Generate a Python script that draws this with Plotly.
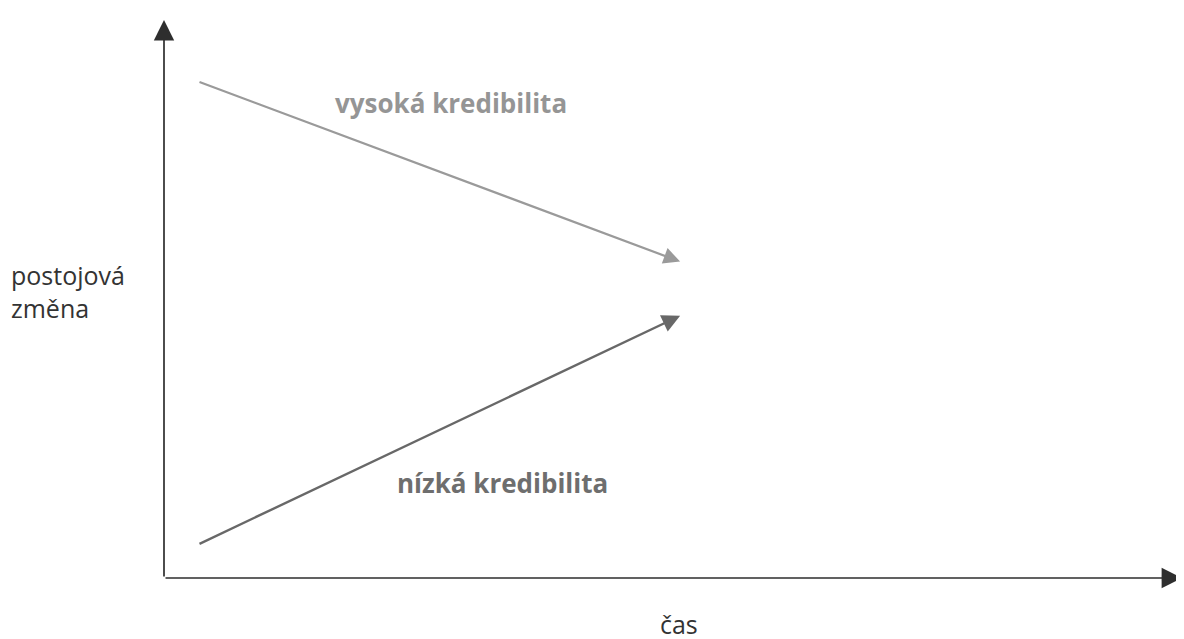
import plotly.graph_objects as go

# conceptual diagram: attitude change over time for high / low credibility source
cas = [0.334, 5.07]
vysoka = [8.9, 5.67]
nizka = [0.6, 4.7]

fig = go.Figure()

# invisible trace so the axes exist
fig.add_trace(go.Scatter(x=cas, y=vysoka, mode="lines", line=dict(width=0), hoverinfo="skip", showlegend=False))

# axes drawn as arrows
fig.add_annotation(x=0, y=10, ax=0, ay=0, xref="x", yref="y", axref="x", ayref="y",
                   showarrow=True, arrowhead=2, arrowsize=2.4, arrowwidth=1.7,
                   arrowcolor="#2e2e2e", text="", standoff=0)
fig.add_annotation(x=10, y=0, ax=0, ay=0, xref="x", yref="y", axref="x", ayref="y",
                   showarrow=True, arrowhead=2, arrowsize=2.4, arrowwidth=1.7,
                   arrowcolor="#2e2e2e", text="", standoff=0)

# the two series
fig.add_annotation(x=cas[1], y=vysoka[1], ax=cas[0], ay=vysoka[0], xref="x", yref="y",
                   axref="x", ayref="y", showarrow=True, arrowhead=2, arrowsize=1.5,
                   arrowwidth=2.2, arrowcolor="#9a9a9a", text="", standoff=0)
fig.add_annotation(x=cas[1], y=nizka[1], ax=cas[0], ay=nizka[0], xref="x", yref="y",
                   axref="x", ayref="y", showarrow=True, arrowhead=2, arrowsize=1.5,
                   arrowwidth=2.4, arrowcolor="#686868", text="", standoff=0)

fig.add_annotation(x=2.82, y=8.51, xref="x", yref="y", showarrow=False,
                   text="<b>vysoká kredibilita</b>",
                   font=dict(family="Open Sans", size=26, color="#959595"))
fig.add_annotation(x=3.33, y=1.70, xref="x", yref="y", showarrow=False,
                   text="<b>nízká kredibilita</b>",
                   font=dict(family="Open Sans", size=26, color="#6e6e6e"))

fig.add_annotation(x=-0.152, y=0.513, xref="paper", yref="paper", showarrow=False,
                   xanchor="left", align="left", text="postojová<br>změna",
                   font=dict(family="Open Sans", size=25, color="#333333"))
fig.add_annotation(x=0.506, y=-0.117, xref="paper", yref="paper", showarrow=False,
                   text="čas", font=dict(family="Open Sans", size=25, color="#333333"))

fig.update_xaxes(range=[0, 10], visible=False, showgrid=False, zeroline=False)
fig.update_yaxes(range=[0, 10], visible=False, showgrid=False, zeroline=False)
fig.update_layout(width=1184, height=639, margin=dict(l=156, r=10, t=12, b=69),
                  paper_bgcolor="white", plot_bgcolor="white", showlegend=False)

fig.write_html("out.html")
